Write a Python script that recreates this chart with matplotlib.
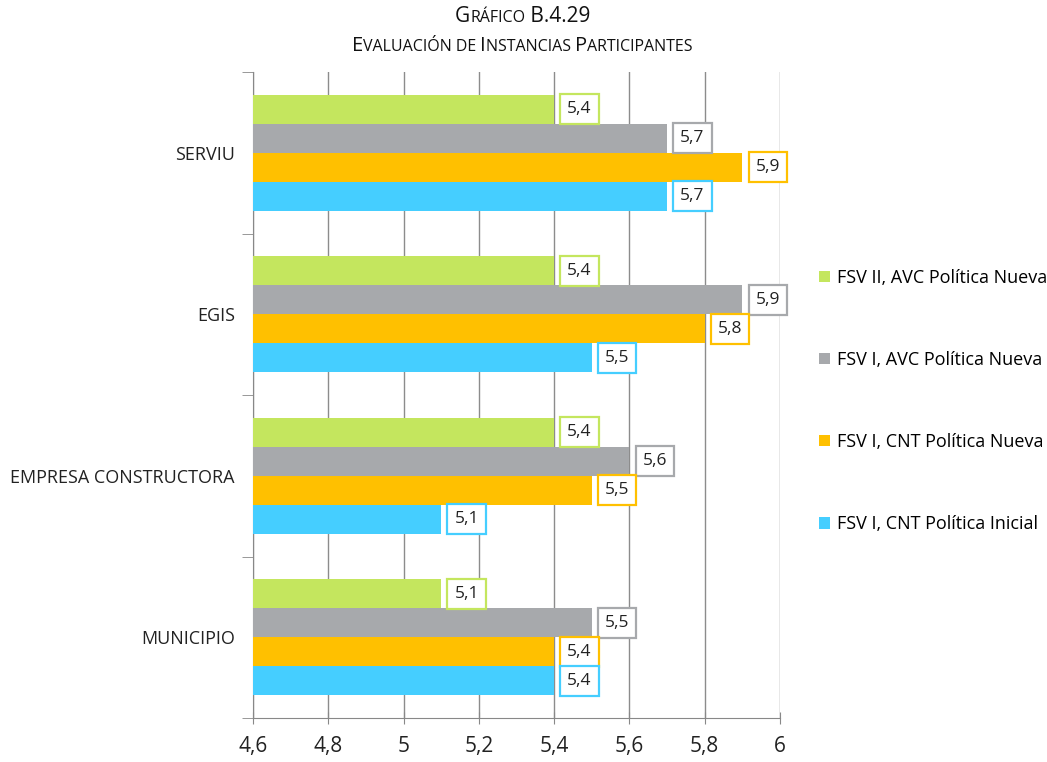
import matplotlib
matplotlib.use("Agg")
import matplotlib.pyplot as plt
import numpy as np
from matplotlib.offsetbox import TextArea, HPacker, AnchoredOffsetbox

plt.rcParams['font.family'] = ['Open Sans', 'DejaVu Sans']

categories = ["MUNICIPIO", "EMPRESA CONSTRUCTORA", "EGIS", "SERVIU"]
series_names = ["FSV II, AVC Política Nueva", "FSV I, AVC Política Nueva",
                "FSV I, CNT Política Nueva", "FSV I, CNT Política Inicial"]
fsv2_avc_nueva = [5.1, 5.4, 5.4, 5.4]
fsv1_avc_nueva = [5.5, 5.6, 5.9, 5.7]
fsv1_cnt_nueva = [5.4, 5.5, 5.8, 5.9]
fsv1_cnt_inicial = [5.4, 5.1, 5.5, 5.7]
x_ticks = [4.6, 4.8, 5.0, 5.2, 5.4, 5.6, 5.8, 6.0]
x_tick_labels = ["4,6", "4,8", "5", "5,2", "5,4", "5,6", "5,8", "6"]

colors = ["#C4E65E", "#A7A9AC", "#FFC000", "#45CEFF"]
series = [fsv2_avc_nueva, fsv1_avc_nueva, fsv1_cnt_nueva, fsv1_cnt_inicial]

fig = plt.figure(figsize=(10.47, 7.62), dpi=100)
ax = fig.add_axes([253/1047, 1-718/762, (780-253)/1047, (718-72)/762])

xmin = 4.6
h = 0.18
y = np.arange(len(categories))
offsets = [1.5*h, 0.5*h, -0.5*h, -1.5*h]
bars_handles = []
for vals, col, off, name in zip(series, colors, offsets, series_names):
    v = np.array(vals)
    b = ax.barh(y + off, v - xmin, left=xmin, height=h, color=col, label=name, zorder=3)
    bars_handles.append(b)
    for yi, vi in zip(y + off, v):
        ax.annotate(f"{vi:.1f}".replace(".", ","), xy=(vi, yi), xytext=(9.5, 0),
                    textcoords="offset points", ha="left", va="center", fontsize=12.5,
                    color="#222222", zorder=5,
                    bbox=dict(boxstyle="square,pad=0.4", fc="white", ec=col, lw=1.6))

ax.set_xlim(4.6, 6.0)
ax.set_ylim(-0.5, len(categories) - 0.5)
ax.set_xticks(x_ticks)
ax.set_xticklabels(x_tick_labels, fontsize=15, color="#222222")
ax.set_yticks(y)
ax.set_yticklabels(categories, fontsize=13, color="#222222")
ax.tick_params(axis="y", length=0, pad=13)
ax.set_yticks(np.arange(-0.5, len(categories), 1.0), minor=True)
ax.tick_params(axis="y", which="minor", length=8, color="#888888", direction="out")
ax.tick_params(axis="x", length=8, color="#888888", direction="inout", pad=9)
ax.xaxis.grid(True, color="#8c8c8c", lw=1, zorder=0)
for s in ["top", "right"]:
    ax.spines[s].set_visible(False)
for s in ["left", "bottom"]:
    ax.spines[s].set_color("#888888")

handles = bars_handles
fig.legend(handles, series_names, loc="center left", bbox_to_anchor=(803/1047, 1-401/762),
           frameon=False, fontsize=13, handlelength=0.6, handleheight=0.6,
           handletextpad=0.4, labelspacing=3.55)

def small_caps(parts, big=13, small=10):
    tas = []
    for text, is_big in parts:
        tas.append(TextArea(text, textprops=dict(fontsize=big if is_big else small, color="#111111")))
    return HPacker(children=tas, align="baseline", pad=0, sep=0)

l1 = small_caps([("G", True), ("RÁFICO", False), (" B.4.29", True)], big=15, small=11.5)
l2 = small_caps([("E", True), ("VALUACIÓN DE ", False), ("I", True), ("NSTANCIAS ", False),
                 ("P", True), ("ARTICIPANTES", False)], big=14.5, small=11.5)
a1 = AnchoredOffsetbox(loc="center", child=l1, bbox_to_anchor=(523/1047, 1-16/762),
                       bbox_transform=fig.transFigure, frameon=False, pad=0, borderpad=0)
a2 = AnchoredOffsetbox(loc="center", child=l2, bbox_to_anchor=(522/1047, 1-46/762),
                       bbox_transform=fig.transFigure, frameon=False, pad=0, borderpad=0)
fig.add_artist(a1)
fig.add_artist(a2)

fig.savefig("out.png", dpi=100)
